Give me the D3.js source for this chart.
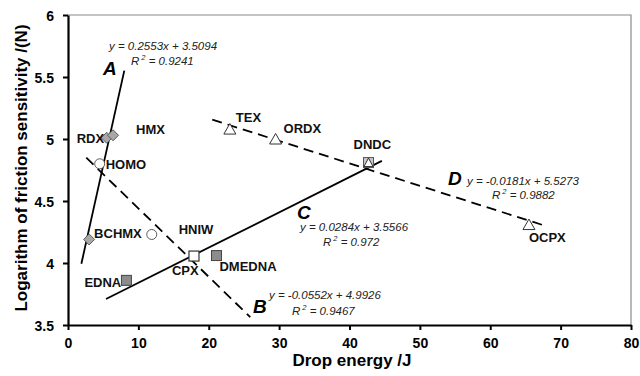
<!DOCTYPE html>
<html><head><meta charset="utf-8">
<script src="https://cdn.jsdelivr.net/npm/d3@7/dist/d3.min.js"></script>
<style>
html,body{margin:0;padding:0;background:#fff;}
svg{display:block;font-family:Arial,"Liberation Sans",sans-serif;}
</style></head>
<body><svg id="chart" width="640" height="376"></svg>
<script>
// ---- data ----
const compounds   = ["RDX","HMX","HOMO","BCHMX","HNIW","CPX","DMEDNA","EDNA","TEX","ORDX","DNDC","OCPX"];
const dropEnergy  = [5.5, 6.4, 4.5, 3.0, 11.9, 17.9, 21.1, 8.3, 23.0, 29.5, 42.7, 65.5];
const logFriction = [5.01, 5.03, 4.80, 4.19, 4.23, 4.056, 4.06, 3.86, 5.08, 5.0, 4.81, 4.31];
const markerTypes = ["diamond","diamond","circle","diamond","circle","openSquare","square","square","triangle","triangle","squareTriangle","triangle"];

const lineNames  = ["A","B","C","D"];
const slopes     = [0.2553, -0.0552, 0.0284, -0.0181];
const intercepts = [3.5094, 4.9926, 3.5566, 5.5273];
const r2Values   = ["0.9241","0.9467","0.972","0.9882"];
const lineStartX = [1.9, 2.6, 5.4, 20.5];
const lineEndX   = [8.0, 25.9, 44.6, 68.1];
const lineDashed = [false, true, false, true];

const xTicks = [0,10,20,30,40,50,60,70,80];
const yTicks = [3.5,4,4.5,5,5.5,6];
const xTitle = "Drop energy /J";
const yTitle = "Logarithm of friction sensitivity /(N)";

// ---- layout (pixel offsets, not data) ----
const labelOffsets = [[-30,5],[23,-1],[6,5],[5,-1],[27,0],[-22,19],[3,15],[-42,7],[6,-7],[8,-6],[-15,-14],[0,17]];
const letterPos = [[103,75],[253,313],[297,219],[448,185]];
const eqPos     = [[109,50],[269,299],[300,231],[467,185]];
const r2Pos     = [[131,65],[292,315],[323,246],[492,199]];

const svg = d3.select("#chart");
const L = 68, R = 631, T = 15, B = 325;
const x = d3.scaleLinear().domain([0,80]).range([L,R]);
const y = d3.scaleLinear().domain([3.5,6]).range([B,T]);

// frame (top/right grey)
svg.append("path").attr("d",`M${L},${T}H${R}V${B}`).attr("fill","none").attr("stroke","#8a8a8a").attr("stroke-width",1.2);

// axes
const xAxis = svg.append("g").attr("transform",`translate(0,${B})`)
  .call(d3.axisBottom(x).tickValues(xTicks).tickSize(5).tickSizeOuter(0).tickPadding(8).tickFormat(d3.format("d")));
const yAxis = svg.append("g").attr("transform",`translate(${L},0)`)
  .call(d3.axisLeft(y).tickValues(yTicks).tickSize(5).tickSizeOuter(0).tickPadding(9).tickFormat(d=>String(d)));
[xAxis,yAxis].forEach(g=>{
  g.select(".domain").attr("stroke","#000").attr("stroke-width",2.2);
  g.selectAll(".tick line").attr("stroke","#000").attr("stroke-width",2);
  g.selectAll(".tick text").attr("fill","#000").attr("font-size",14).attr("font-weight","bold")
   .attr("font-family",'Arial,"Liberation Sans",sans-serif');
});
xAxis.selectAll(".tick text").attr("dy","0.71em");
yAxis.selectAll(".tick text").attr("dy","0.36em");

// axis titles
svg.append("text").attr("x",352).attr("y",366).attr("text-anchor","middle")
  .attr("font-size",17).attr("font-weight","bold").text(xTitle);
svg.append("text").attr("transform","translate(27,168) rotate(-90)").attr("text-anchor","middle")
  .attr("font-size",17).attr("font-weight","bold").text(yTitle);

// trend lines
lineNames.forEach((n,i)=>{
  const x0 = lineStartX[i], x1 = lineEndX[i];
  svg.append("line")
    .attr("x1",x(x0)).attr("y1",y(slopes[i]*x0+intercepts[i]))
    .attr("x2",x(x1)).attr("y2",y(slopes[i]*x1+intercepts[i]))
    .attr("stroke","#000").attr("stroke-width",1.8)
    .attr("stroke-dasharray",lineDashed[i]?"10,6":null);
  svg.append("text").attr("x",letterPos[i][0]).attr("y",letterPos[i][1])
    .attr("font-size",19).attr("font-weight","bold").attr("font-style","italic").text(n);
  const sign = intercepts[i] >= 0 ? "+" : "-";
  svg.append("text").attr("x",eqPos[i][0]).attr("y",eqPos[i][1])
    .attr("font-size",11.5).attr("font-style","italic").attr("fill","#222")
    .text(`y = ${slopes[i]}x ${sign} ${Math.abs(intercepts[i])}`);
  const t = svg.append("text").attr("x",r2Pos[i][0]).attr("y",r2Pos[i][1])
    .attr("font-size",11.5).attr("font-style","italic").attr("fill","#222");
  t.append("tspan").text("R");
  t.append("tspan").attr("font-size",7.5).attr("dy",-5).attr("dx",2).text("2");
  t.append("tspan").attr("dy",5).text(` = ${r2Values[i]}`);
});

// markers
const pts = compounds.map((c,i)=>({name:c,x:dropEnergy[i],y:logFriction[i],type:markerTypes[i],off:labelOffsets[i]}));
const g = svg.append("g");
pts.forEach(p=>{
  const px = x(p.x), py = y(p.y);
  const s = g.append("g").attr("transform",`translate(${px},${py})`);
  if(p.type==="diamond"){
    s.append("path").attr("d","M0,-5.5L5.5,0L0,5.5L-5.5,0Z").attr("fill","#a8a8a8").attr("stroke","#5a5a5a").attr("stroke-width",1);
  } else if(p.type==="circle"){
    s.append("circle").attr("r",5).attr("fill","#fff").attr("stroke","#5a5a5a").attr("stroke-width",1);
  } else if(p.type==="square"){
    s.append("rect").attr("x",-5).attr("y",-5).attr("width",10).attr("height",10).attr("fill","#8c8c8c").attr("stroke","#444").attr("stroke-width",1);
  } else if(p.type==="openSquare"){
    s.append("rect").attr("x",-5).attr("y",-5).attr("width",10).attr("height",10).attr("fill","#fff").attr("stroke","#333").attr("stroke-width",1.2);
  } else if(p.type==="triangle"){
    s.append("path").attr("d","M0,-5.5L6,5L-6,5Z").attr("fill","#fff").attr("stroke","#333").attr("stroke-width",1);
  } else if(p.type==="squareTriangle"){
    s.append("rect").attr("x",-5).attr("y",-5).attr("width",10).attr("height",10).attr("fill","#c8c8c8").attr("stroke","#555").attr("stroke-width",1);
    s.append("path").attr("d","M0,-4.5L4.5,4L-4.5,4Z").attr("fill","#fff").attr("stroke","#333").attr("stroke-width",1);
  }
  svg.append("text").attr("x",px+p.off[0]).attr("y",py+p.off[1])
    .attr("font-size",13).attr("font-weight","bold").attr("fill","#111").text(p.name);
});
</script></body></html>
